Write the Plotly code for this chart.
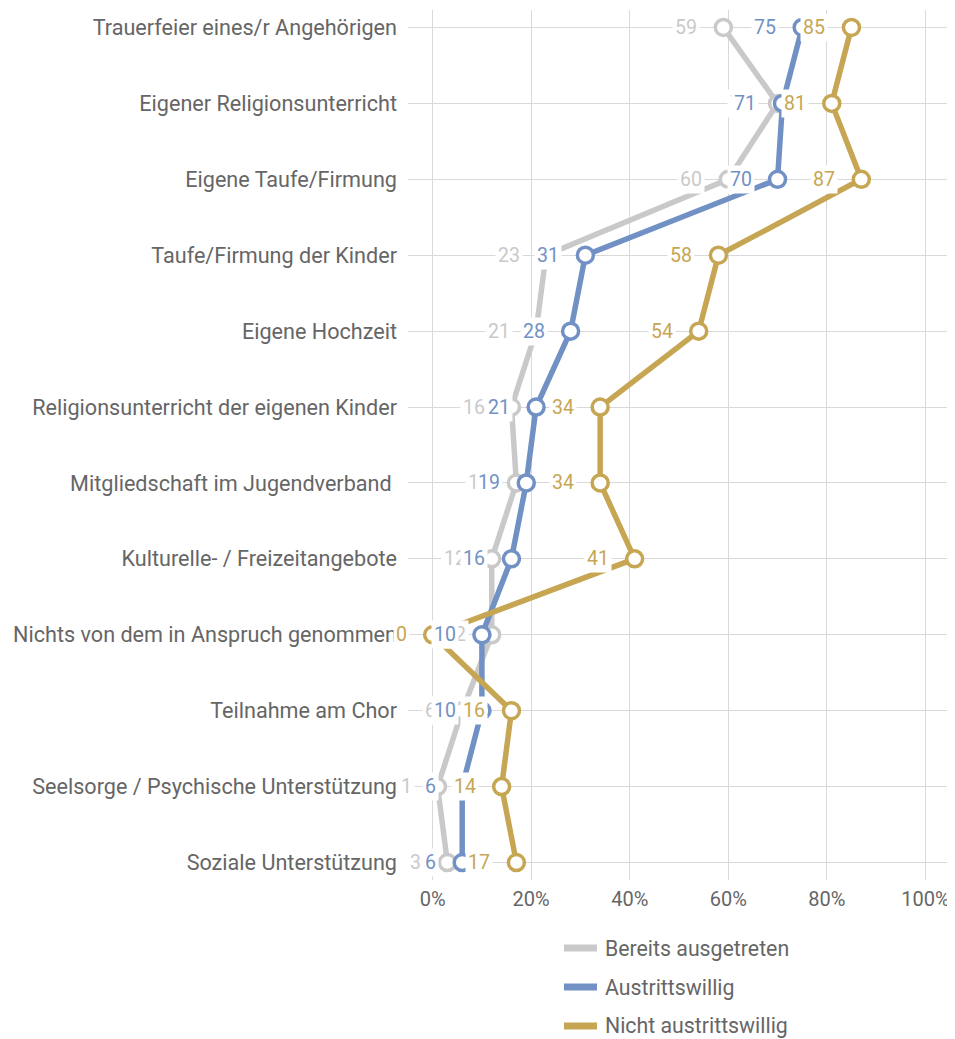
import plotly.graph_objects as go

kategorien = [
    "Trauerfeier eines/r Angehörigen",
    "Eigener Religionsunterricht",
    "Eigene Taufe/Firmung",
    "Taufe/Firmung der Kinder",
    "Eigene Hochzeit",
    "Religionsunterricht der eigenen Kinder",
    "Mitgliedschaft im Jugendverband ",
    "Kulturelle- / Freizeitangebote",
    "Nichts von dem in Anspruch genommen",
    "Teilnahme am Chor",
    "Seelsorge / Psychische Unterstützung",
    "Soziale Unterstützung",
]

ausgetreten = [59, 70, 60, 23, 21, 16, 17, 12, 12, 6, 1, 3]
austrittswillig = [75, 71, 70, 31, 28, 21, 19, 16, 10, 10, 6, 6]
nicht_austrittswillig = [85, 81, 87, 58, 54, 34, 34, 41, 0, 16, 14, 17]

x_ticks = [0, 20, 40, 60, 80, 100]
x_ticktext = ["0%", "20%", "40%", "60%", "80%", "100%"]

namen = ["Bereits ausgetreten", "Austrittswillig", "Nicht austrittswillig"]
farben = ["#c9c9c9", "#7191c5", "#c6a653"]
serien = [ausgetreten, austrittswillig, nicht_austrittswillig]

schrift = "Roboto"
textfarbe = "#666666"

fig = go.Figure()

for name, farbe, werte in zip(namen, farben, serien):
    fig.add_trace(go.Scatter(
        x=werte, y=kategorien, name=name,
        mode="lines+markers",
        line=dict(color=farbe, width=5.5),
        marker=dict(size=16, color="white", line=dict(color=farbe, width=3.5)),
        showlegend=False,
        cliponaxis=False,
    ))

annotations = []
for farbe, werte in zip(farben, serien):
    for kat, w in zip(kategorien, werte):
        annotations.append(dict(
            x=w, y=kat, xref="x", yref="y",
            text=str(w), showarrow=False,
            xanchor="right", xshift=-23,
            font=dict(family=schrift, size=19.5, color=farbe),
            bgcolor="white", borderpad=2,
        ))

# Legende von Hand (die eingebaute Legende wuerde den Plot zusammendruecken)
shapes = []
for i, (name, farbe) in enumerate(zip(namen, farben)):
    y_leg = -0.0782 - i * 0.0448
    shapes.append(dict(
        type="line", xref="paper", yref="paper",
        x0=0.2878, x1=0.3487, y0=y_leg, y1=y_leg,
        line=dict(color=farbe, width=7),
    ))
    annotations.append(dict(
        x=0.3600, y=y_leg, xref="paper", yref="paper",
        text=name, showarrow=False,
        xanchor="left", yanchor="middle",
        font=dict(family=schrift, size=21.3, color=textfarbe),
    ))

# Seite hat 8px body-margin -> Figur entsprechend kleiner
fig.update_layout(
    width=947, height=1031,
    paper_bgcolor="white", plot_bgcolor="white",
    margin=dict(l=400, r=5, t=2, b=159),
    font=dict(family=schrift, size=21, color=textfarbe),
    annotations=annotations,
    shapes=shapes,
    showlegend=False,
    xaxis=dict(
        range=[-5, 105],
        tickvals=x_ticks, ticktext=x_ticktext,
        showgrid=True, gridcolor="#d9d9d9", gridwidth=1,
        zeroline=False, showline=False, automargin=False,
        ticks="", ticklabelstandoff=5,
        tickfont=dict(size=20, color=textfarbe),
    ),
    yaxis=dict(
        categoryorder="array", categoryarray=kategorien,
        range=[11.23, -0.23],
        showgrid=True, gridcolor="#d9d9d9", gridwidth=1,
        zeroline=False, showline=False, automargin=False,
        ticks="", ticklabelstandoff=10,
        tickfont=dict(size=21.6, color=textfarbe),
    ),
)

fig.write_html("out.html")
